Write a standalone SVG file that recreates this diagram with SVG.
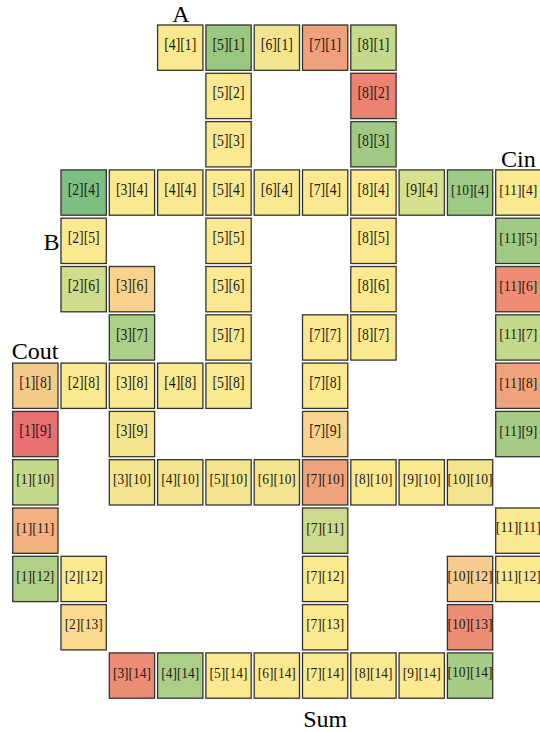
<svg xmlns="http://www.w3.org/2000/svg" width="540" height="732" viewBox="0 0 540 732">
<style>
rect{stroke:#333;stroke-width:1.3}
text{font-family:"Liberation Serif","Times New Roman",serif;fill:#1a1a1a;text-anchor:middle}
.t2{font-size:16px}.t3{font-size:14.5px}.t4{font-size:14px}
.lab{font-size:24px;fill:#000}
.y{fill:#fbe98f}.y2{fill:#f5e48e}
</style>
<g id="labels">
<text class="lab" x="181" y="21.5">A</text>
<text class="lab" x="59.5" y="250" style="text-anchor:end">B</text>
<text class="lab" x="518.3" y="166.8">Cin</text>
<text class="lab" x="35" y="359.3">Cout</text>
<text class="lab" x="325.2" y="727">Sum</text>
</g>
<g id="c4_1"><rect class="y" x="157.6" y="25" width="45.3" height="45.3"/><text class="t2" x="180.25" y="49.8" textLength="32" lengthAdjust="spacingAndGlyphs">[4][1]</text></g>
<g id="c5_1"><rect style="fill:#98c77f" x="205.9" y="25" width="45.3" height="45.3"/><text class="t2" x="228.55" y="49.8" textLength="32" lengthAdjust="spacingAndGlyphs">[5][1]</text></g>
<g id="c6_1"><rect class="y2" x="254.2" y="25" width="45.3" height="45.3"/><text class="t2" x="276.85" y="49.8" textLength="32" lengthAdjust="spacingAndGlyphs">[6][1]</text></g>
<g id="c7_1"><rect style="fill:#f0a07a" x="302.5" y="25" width="45.3" height="45.3"/><text class="t2" x="325.15" y="49.8" textLength="32" lengthAdjust="spacingAndGlyphs">[7][1]</text></g>
<g id="c8_1"><rect style="fill:#c4d98a" x="350.8" y="25" width="45.3" height="45.3"/><text class="t2" x="373.45" y="49.8" textLength="32" lengthAdjust="spacingAndGlyphs">[8][1]</text></g>
<g id="c5_2"><rect class="y" x="205.9" y="73.3" width="45.3" height="45.3"/><text class="t2" x="228.55" y="98.1" textLength="32" lengthAdjust="spacingAndGlyphs">[5][2]</text></g>
<g id="c8_2"><rect style="fill:#ec8271" x="350.8" y="73.3" width="45.3" height="45.3"/><text class="t2" x="373.45" y="98.1" textLength="32" lengthAdjust="spacingAndGlyphs">[8][2]</text></g>
<g id="c5_3"><rect class="y" x="205.9" y="121.6" width="45.3" height="45.3"/><text class="t2" x="228.55" y="146.4" textLength="32" lengthAdjust="spacingAndGlyphs">[5][3]</text></g>
<g id="c8_3"><rect style="fill:#a1c985" x="350.8" y="121.6" width="45.3" height="45.3"/><text class="t2" x="373.45" y="146.4" textLength="32" lengthAdjust="spacingAndGlyphs">[8][3]</text></g>
<g id="c2_4"><rect style="fill:#7dbf83" x="61" y="169.9" width="45.3" height="45.3"/><text class="t2" x="83.65" y="194.7" textLength="32" lengthAdjust="spacingAndGlyphs">[2][4]</text></g>
<g id="c3_4"><rect class="y" x="109.3" y="169.9" width="45.3" height="45.3"/><text class="t2" x="131.95" y="194.7" textLength="32" lengthAdjust="spacingAndGlyphs">[3][4]</text></g>
<g id="c4_4"><rect class="y" x="157.6" y="169.9" width="45.3" height="45.3"/><text class="t2" x="180.25" y="194.7" textLength="32" lengthAdjust="spacingAndGlyphs">[4][4]</text></g>
<g id="c5_4"><rect class="y" x="205.9" y="169.9" width="45.3" height="45.3"/><text class="t2" x="228.55" y="194.7" textLength="32" lengthAdjust="spacingAndGlyphs">[5][4]</text></g>
<g id="c6_4"><rect class="y" x="254.2" y="169.9" width="45.3" height="45.3"/><text class="t2" x="276.85" y="194.7" textLength="32" lengthAdjust="spacingAndGlyphs">[6][4]</text></g>
<g id="c7_4"><rect class="y" x="302.5" y="169.9" width="45.3" height="45.3"/><text class="t2" x="325.15" y="194.7" textLength="32" lengthAdjust="spacingAndGlyphs">[7][4]</text></g>
<g id="c8_4"><rect class="y" x="350.8" y="169.9" width="45.3" height="45.3"/><text class="t2" x="373.45" y="194.7" textLength="32" lengthAdjust="spacingAndGlyphs">[8][4]</text></g>
<g id="c9_4"><rect style="fill:#d8e08d" x="399.1" y="169.9" width="45.3" height="45.3"/><text class="t2" x="421.75" y="194.7" textLength="32" lengthAdjust="spacingAndGlyphs">[9][4]</text></g>
<g id="c10_4"><rect style="fill:#9ccb86" x="447.4" y="169.9" width="45.3" height="45.3"/><text class="t3" x="470.05" y="194.5" textLength="38" lengthAdjust="spacingAndGlyphs">[10][4]</text></g>
<g id="c11_4"><rect class="y" x="495.7" y="169.9" width="45.3" height="45.3"/><text class="t3" x="518.35" y="194.5" textLength="38" lengthAdjust="spacingAndGlyphs">[11][4]</text></g>
<g id="c2_5"><rect class="y" x="61" y="218.2" width="45.3" height="45.3"/><text class="t2" x="83.65" y="243" textLength="32" lengthAdjust="spacingAndGlyphs">[2][5]</text></g>
<g id="c5_5"><rect class="y" x="205.9" y="218.2" width="45.3" height="45.3"/><text class="t2" x="228.55" y="243" textLength="32" lengthAdjust="spacingAndGlyphs">[5][5]</text></g>
<g id="c8_5"><rect class="y" x="350.8" y="218.2" width="45.3" height="45.3"/><text class="t2" x="373.45" y="243" textLength="32" lengthAdjust="spacingAndGlyphs">[8][5]</text></g>
<g id="c11_5"><rect style="fill:#a2ca84" x="495.7" y="218.2" width="45.3" height="45.3"/><text class="t3" x="518.35" y="242.8" textLength="38" lengthAdjust="spacingAndGlyphs">[11][5]</text></g>
<g id="c2_6"><rect style="fill:#cfdc8c" x="61" y="266.5" width="45.3" height="45.3"/><text class="t2" x="83.65" y="291.3" textLength="32" lengthAdjust="spacingAndGlyphs">[2][6]</text></g>
<g id="c3_6"><rect style="fill:#f8d28d" x="109.3" y="266.5" width="45.3" height="45.3"/><text class="t2" x="131.95" y="291.3" textLength="32" lengthAdjust="spacingAndGlyphs">[3][6]</text></g>
<g id="c5_6"><rect class="y" x="205.9" y="266.5" width="45.3" height="45.3"/><text class="t2" x="228.55" y="291.3" textLength="32" lengthAdjust="spacingAndGlyphs">[5][6]</text></g>
<g id="c8_6"><rect class="y" x="350.8" y="266.5" width="45.3" height="45.3"/><text class="t2" x="373.45" y="291.3" textLength="32" lengthAdjust="spacingAndGlyphs">[8][6]</text></g>
<g id="c11_6"><rect style="fill:#ee8c74" x="495.7" y="266.5" width="45.3" height="45.3"/><text class="t3" x="518.35" y="291.1" textLength="38" lengthAdjust="spacingAndGlyphs">[11][6]</text></g>
<g id="c3_7"><rect style="fill:#abcf86" x="109.3" y="314.8" width="45.3" height="45.3"/><text class="t2" x="131.95" y="339.6" textLength="32" lengthAdjust="spacingAndGlyphs">[3][7]</text></g>
<g id="c5_7"><rect class="y" x="205.9" y="314.8" width="45.3" height="45.3"/><text class="t2" x="228.55" y="339.6" textLength="32" lengthAdjust="spacingAndGlyphs">[5][7]</text></g>
<g id="c7_7"><rect class="y" x="302.5" y="314.8" width="45.3" height="45.3"/><text class="t2" x="325.15" y="339.6" textLength="32" lengthAdjust="spacingAndGlyphs">[7][7]</text></g>
<g id="c8_7"><rect class="y" x="350.8" y="314.8" width="45.3" height="45.3"/><text class="t2" x="373.45" y="339.6" textLength="32" lengthAdjust="spacingAndGlyphs">[8][7]</text></g>
<g id="c11_7"><rect style="fill:#c2d98a" x="495.7" y="314.8" width="45.3" height="45.3"/><text class="t3" x="518.35" y="339.4" textLength="38" lengthAdjust="spacingAndGlyphs">[11][7]</text></g>
<g id="c1_8"><rect style="fill:#f5c98a" x="12.7" y="363.1" width="45.3" height="45.3"/><text class="t2" x="35.35" y="387.9" textLength="32" lengthAdjust="spacingAndGlyphs">[1][8]</text></g>
<g id="c2_8"><rect class="y" x="61" y="363.1" width="45.3" height="45.3"/><text class="t2" x="83.65" y="387.9" textLength="32" lengthAdjust="spacingAndGlyphs">[2][8]</text></g>
<g id="c3_8"><rect class="y" x="109.3" y="363.1" width="45.3" height="45.3"/><text class="t2" x="131.95" y="387.9" textLength="32" lengthAdjust="spacingAndGlyphs">[3][8]</text></g>
<g id="c4_8"><rect class="y" x="157.6" y="363.1" width="45.3" height="45.3"/><text class="t2" x="180.25" y="387.9" textLength="32" lengthAdjust="spacingAndGlyphs">[4][8]</text></g>
<g id="c5_8"><rect class="y" x="205.9" y="363.1" width="45.3" height="45.3"/><text class="t2" x="228.55" y="387.9" textLength="32" lengthAdjust="spacingAndGlyphs">[5][8]</text></g>
<g id="c7_8"><rect class="y" x="302.5" y="363.1" width="45.3" height="45.3"/><text class="t2" x="325.15" y="387.9" textLength="32" lengthAdjust="spacingAndGlyphs">[7][8]</text></g>
<g id="c11_8"><rect style="fill:#f1a47b" x="495.7" y="363.1" width="45.3" height="45.3"/><text class="t3" x="518.35" y="387.7" textLength="38" lengthAdjust="spacingAndGlyphs">[11][8]</text></g>
<g id="c1_9"><rect style="fill:#e8706e" x="12.7" y="411.4" width="45.3" height="45.3"/><text class="t2" x="35.35" y="436.2" textLength="32" lengthAdjust="spacingAndGlyphs">[1][9]</text></g>
<g id="c3_9"><rect class="y2" x="109.3" y="411.4" width="45.3" height="45.3"/><text class="t2" x="131.95" y="436.2" textLength="32" lengthAdjust="spacingAndGlyphs">[3][9]</text></g>
<g id="c7_9"><rect style="fill:#f9d48e" x="302.5" y="411.4" width="45.3" height="45.3"/><text class="t2" x="325.15" y="436.2" textLength="32" lengthAdjust="spacingAndGlyphs">[7][9]</text></g>
<g id="c11_9"><rect style="fill:#a5cb84" x="495.7" y="411.4" width="45.3" height="45.3"/><text class="t3" x="518.35" y="436" textLength="38" lengthAdjust="spacingAndGlyphs">[11][9]</text></g>
<g id="c1_10"><rect style="fill:#c5da8b" x="12.7" y="459.7" width="45.3" height="45.3"/><text class="t3" x="35.35" y="484.3" textLength="38" lengthAdjust="spacingAndGlyphs">[1][10]</text></g>
<g id="c3_10"><rect class="y2" x="109.3" y="459.7" width="45.3" height="45.3"/><text class="t3" x="131.95" y="484.3" textLength="38" lengthAdjust="spacingAndGlyphs">[3][10]</text></g>
<g id="c4_10"><rect class="y2" x="157.6" y="459.7" width="45.3" height="45.3"/><text class="t3" x="180.25" y="484.3" textLength="38" lengthAdjust="spacingAndGlyphs">[4][10]</text></g>
<g id="c5_10"><rect class="y2" x="205.9" y="459.7" width="45.3" height="45.3"/><text class="t3" x="228.55" y="484.3" textLength="38" lengthAdjust="spacingAndGlyphs">[5][10]</text></g>
<g id="c6_10"><rect class="y2" x="254.2" y="459.7" width="45.3" height="45.3"/><text class="t3" x="276.85" y="484.3" textLength="38" lengthAdjust="spacingAndGlyphs">[6][10]</text></g>
<g id="c7_10"><rect style="fill:#f0a27b" x="302.5" y="459.7" width="45.3" height="45.3"/><text class="t3" x="325.15" y="484.3" textLength="38" lengthAdjust="spacingAndGlyphs">[7][10]</text></g>
<g id="c8_10"><rect class="y" x="350.8" y="459.7" width="45.3" height="45.3"/><text class="t3" x="373.45" y="484.3" textLength="38" lengthAdjust="spacingAndGlyphs">[8][10]</text></g>
<g id="c9_10"><rect class="y" x="399.1" y="459.7" width="45.3" height="45.3"/><text class="t3" x="421.75" y="484.3" textLength="38" lengthAdjust="spacingAndGlyphs">[9][10]</text></g>
<g id="c10_10"><rect class="y2" x="447.4" y="459.7" width="45.3" height="45.3"/><text class="t4" x="470.05" y="484.1" textLength="45" lengthAdjust="spacingAndGlyphs">[10][10]</text></g>
<g id="c1_11"><rect style="fill:#f2b17f" x="12.7" y="508" width="45.3" height="45.3"/><text class="t3" x="35.35" y="532.6" textLength="38" lengthAdjust="spacingAndGlyphs">[1][11]</text></g>
<g id="c7_11"><rect style="fill:#cfdb8c" x="302.5" y="508" width="45.3" height="45.3"/><text class="t3" x="325.15" y="532.6" textLength="38" lengthAdjust="spacingAndGlyphs">[7][11]</text></g>
<g id="c11_11"><rect class="y" x="495.7" y="508" width="45.3" height="45.3"/><text class="t4" x="518.35" y="532.4" textLength="45" lengthAdjust="spacingAndGlyphs">[11][11]</text></g>
<g id="c1_12"><rect style="fill:#b0d086" x="12.7" y="556.3" width="45.3" height="45.3"/><text class="t3" x="35.35" y="580.9" textLength="38" lengthAdjust="spacingAndGlyphs">[1][12]</text></g>
<g id="c2_12"><rect class="y" x="61" y="556.3" width="45.3" height="45.3"/><text class="t3" x="83.65" y="580.9" textLength="38" lengthAdjust="spacingAndGlyphs">[2][12]</text></g>
<g id="c7_12"><rect class="y" x="302.5" y="556.3" width="45.3" height="45.3"/><text class="t3" x="325.15" y="580.9" textLength="38" lengthAdjust="spacingAndGlyphs">[7][12]</text></g>
<g id="c10_12"><rect style="fill:#f5cc8b" x="447.4" y="556.3" width="45.3" height="45.3"/><text class="t4" x="470.05" y="580.7" textLength="45" lengthAdjust="spacingAndGlyphs">[10][12]</text></g>
<g id="c11_12"><rect class="y" x="495.7" y="556.3" width="45.3" height="45.3"/><text class="t4" x="518.35" y="580.7" textLength="45" lengthAdjust="spacingAndGlyphs">[11][12]</text></g>
<g id="c2_13"><rect style="fill:#fbda8e" x="61" y="604.6" width="45.3" height="45.3"/><text class="t3" x="83.65" y="629.2" textLength="38" lengthAdjust="spacingAndGlyphs">[2][13]</text></g>
<g id="c7_13"><rect class="y" x="302.5" y="604.6" width="45.3" height="45.3"/><text class="t3" x="325.15" y="629.2" textLength="38" lengthAdjust="spacingAndGlyphs">[7][13]</text></g>
<g id="c10_13"><rect style="fill:#ec8c74" x="447.4" y="604.6" width="45.3" height="45.3"/><text class="t4" x="470.05" y="629" textLength="45" lengthAdjust="spacingAndGlyphs">[10][13]</text></g>
<g id="c3_14"><rect style="fill:#ec8c74" x="109.3" y="652.9" width="45.3" height="45.3"/><text class="t3" x="131.95" y="677.5" textLength="38" lengthAdjust="spacingAndGlyphs">[3][14]</text></g>
<g id="c4_14"><rect style="fill:#abcf86" x="157.6" y="652.9" width="45.3" height="45.3"/><text class="t3" x="180.25" y="677.5" textLength="38" lengthAdjust="spacingAndGlyphs">[4][14]</text></g>
<g id="c5_14"><rect class="y" x="205.9" y="652.9" width="45.3" height="45.3"/><text class="t3" x="228.55" y="677.5" textLength="38" lengthAdjust="spacingAndGlyphs">[5][14]</text></g>
<g id="c6_14"><rect class="y" x="254.2" y="652.9" width="45.3" height="45.3"/><text class="t3" x="276.85" y="677.5" textLength="38" lengthAdjust="spacingAndGlyphs">[6][14]</text></g>
<g id="c7_14"><rect class="y" x="302.5" y="652.9" width="45.3" height="45.3"/><text class="t3" x="325.15" y="677.5" textLength="38" lengthAdjust="spacingAndGlyphs">[7][14]</text></g>
<g id="c8_14"><rect class="y" x="350.8" y="652.9" width="45.3" height="45.3"/><text class="t3" x="373.45" y="677.5" textLength="38" lengthAdjust="spacingAndGlyphs">[8][14]</text></g>
<g id="c9_14"><rect class="y" x="399.1" y="652.9" width="45.3" height="45.3"/><text class="t3" x="421.75" y="677.5" textLength="38" lengthAdjust="spacingAndGlyphs">[9][14]</text></g>
<g id="c10_14"><rect style="fill:#a7cc86" x="447.4" y="652.9" width="45.3" height="45.3"/><text class="t4" x="470.05" y="677.3" textLength="45" lengthAdjust="spacingAndGlyphs">[10][14]</text></g>
</svg>
